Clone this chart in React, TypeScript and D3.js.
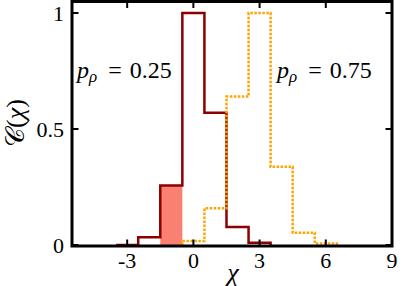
import React, { useEffect, useRef } from 'react';
import * as d3 from 'd3';

// histogram bins (centres, width 1)
const redBins = [-3, -2, -1, 0, 1, 2, 3];
const redValues = [0, 0.033, 0.256, 1.0, 0.57, 0.078, 0.01];
const orangeBins = [0, 1, 2, 3, 4, 5, 6];
const orangeValues = [0.017, 0.158, 0.64, 1.0, 0.337, 0.053, 0.006];
const shadedBin = -1;

const xTicks = [-3, 0, 3, 6, 9];
const yTicks = [0, 0.5, 1];
const yTickLabels = ['0', '0.5', '1'];

const SERIF = "'Liberation Serif', 'Times New Roman', Times, 'DejaVu Serif', 'Noto Serif', serif";

const App = () => {
  const svgRef = useRef<SVGSVGElement>(null);

  useEffect(() => {
    if (!svgRef.current) return;
    const width = 407;
    const height = 286;
    const left = 72, right = 392, top = 1.5, bottom = 246;

    const svg = d3.select(svgRef.current);
    svg.selectAll('*').remove();

    const x = d3.scaleLinear().domain([-5.5, 9]).range([left, right]);
    const y = d3.scaleLinear().domain([0, 1]).range([245, 13]);

    // step outline like matplotlib histtype='step'
    const stepPoints = (bins: number[], vals: number[]) => {
      const pts: [number, number][] = [[bins[0] - 0.5, 0]];
      bins.forEach((b, i) => {
        pts.push([b - 0.5, vals[i]]);
        pts.push([b + 0.5, vals[i]]);
      });
      pts.push([bins[bins.length - 1] + 0.5, 0]);
      return pts;
    };
    const line = d3.line<[number, number]>().x(d => x(d[0])).y(d => y(d[1]));

    // shaded bin
    const si = redBins.indexOf(shadedBin);
    svg.append('rect')
      .attr('x', x(shadedBin - 0.5))
      .attr('y', y(redValues[si]))
      .attr('width', x(shadedBin + 0.5) - x(shadedBin - 0.5))
      .attr('height', y(0) - y(redValues[si]))
      .attr('fill', '#fa8072');

    svg.append('path')
      .attr('d', line(stepPoints(redBins, redValues)))
      .attr('fill', 'none')
      .attr('stroke', '#8b0000')
      .attr('stroke-width', 2.5);

    svg.append('path')
      .attr('d', line(stepPoints(orangeBins, orangeValues)))
      .attr('fill', 'none')
      .attr('stroke', '#ffa500')
      .attr('stroke-width', 2.5)
      .attr('stroke-dasharray', '2.5,1.5');

    // frame
    svg.append('rect')
      .attr('x', left)
      .attr('y', top)
      .attr('width', right - left)
      .attr('height', bottom - top)
      .attr('fill', 'none')
      .attr('stroke', '#000')
      .attr('stroke-width', 3);

    // ticks (inward, mirrored)
    const tickLen = 5;
    xTicks.forEach(t => {
      svg.append('line').attr('x1', x(t)).attr('x2', x(t))
        .attr('y1', bottom).attr('y2', bottom - tickLen - 1.5)
        .attr('stroke', '#000').attr('stroke-width', 2);
      svg.append('line').attr('x1', x(t)).attr('x2', x(t))
        .attr('y1', top).attr('y2', top + tickLen + 1.5)
        .attr('stroke', '#000').attr('stroke-width', 2);
      svg.append('text')
        .attr('x', x(t))
        .attr('y', 268)
        .attr('text-anchor', 'middle')
        .style('font-family', SERIF)
        .style('font-size', '22px')
        .text(String(t));
    });
    yTicks.forEach((t, i) => {
      svg.append('line').attr('x1', left).attr('x2', left + tickLen + 1.5)
        .attr('y1', y(t)).attr('y2', y(t))
        .attr('stroke', '#000').attr('stroke-width', 2);
      svg.append('line').attr('x1', right).attr('x2', right - tickLen - 1.5)
        .attr('y1', y(t)).attr('y2', y(t))
        .attr('stroke', '#000').attr('stroke-width', 2);
      svg.append('text')
        .attr('x', 64)
        .attr('y', Math.max(y(t) + 8, 18))
        .attr('text-anchor', 'end')
        .style('font-family', SERIF)
        .style('font-size', '22px')
        .text(yTickLabels[i]);
    });

    // axis labels
    svg.append('text')
      .attr('x', 233)
      .attr('y', 281)
      .attr('text-anchor', 'middle')
      .style('font-family', SERIF)
      .style('font-style', 'italic')
      .style('font-size', '26px')
      .text('χ');

    const yl = svg.append('text')
      .attr('transform', 'translate(24,123) rotate(-90)')
      .attr('text-anchor', 'middle')
      .style('font-family', SERIF)
      .style('font-size', '26px');
    yl.append('tspan').text('𝒞');
    yl.append('tspan').text('(');
    yl.append('tspan').style('font-style', 'italic').text('χ');
    yl.append('tspan').text(')');

    // annotations
    const annot = (xPos: number, val: string) => {
      const t = svg.append('text')
        .attr('x', xPos)
        .attr('y', 78)
        .style('font-family', SERIF)
        .style('font-size', '24px');
      t.append('tspan').style('font-style', 'italic').text('p');
      t.append('tspan').style('font-style', 'italic').style('font-size', '17px').attr('dy', 4).text('ρ');
      t.append('tspan').attr('dy', -4).attr('dx', 11).text('=');
      t.append('tspan').attr('dx', 8).text(val);
    };
    annot(77, '0.25');
    annot(277, '0.75');

    svg.attr('width', width).attr('height', height);
  }, []);

  return (
    <svg
      ref={svgRef}
      width={407}
      height={286}
      style={{ position: 'absolute', left: 0, top: 0, background: '#fff' }}
    />
  );
};

export default App;
